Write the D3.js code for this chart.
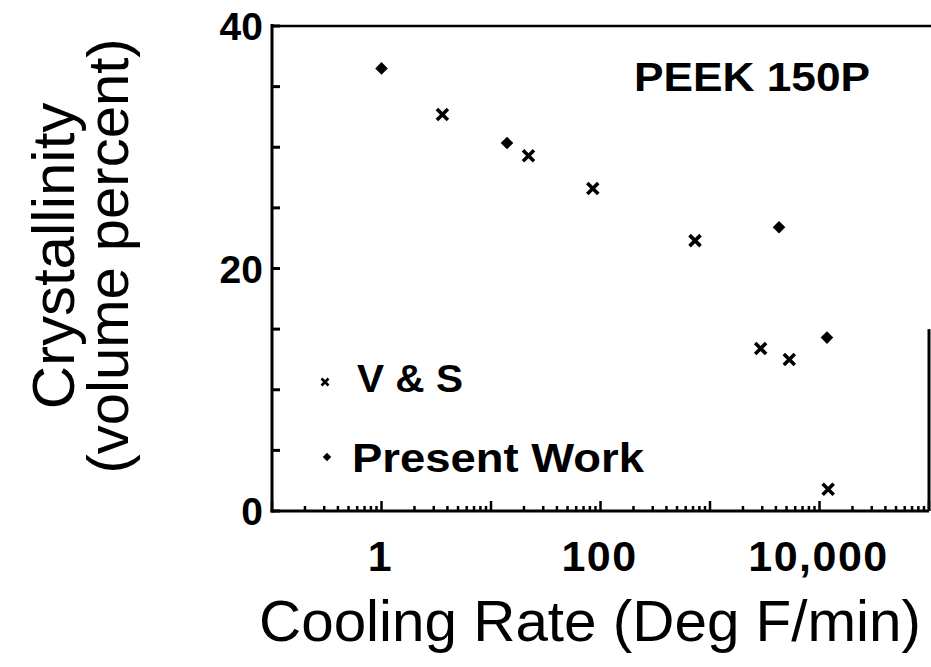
<!DOCTYPE html>
<html>
<head>
<meta charset="utf-8">
<script src="https://cdn.jsdelivr.net/npm/d3@7"></script>
<style>
  html, body { margin: 0; padding: 0; background: #fff; }
  svg { display: block; font-family: "Liberation Sans", Arial, Helvetica, sans-serif; }
</style>
</head>
<body>
<svg id="chart" width="931" height="667"></svg>
<script>
// ---- data ----
const vsRates = [3.6, 22, 85, 730, 2900, 5300, 12000];
const vsCryst = [32.7, 29.3, 26.6, 22.3, 13.4, 12.5, 1.8];
const presentRates = [1, 14, 4270, 11700];
const presentCryst = [36.5, 30.35, 23.4, 14.3];
const xTickValues = [1, 100, 10000];
const xTickLabels = ["1", "100", "10,000"];
const yTickValues = [0, 20, 40];
const yMinorTicks = [5, 10, 15, 25, 30, 35];
const seriesNames = ["V & S", "Present Work"];
const chartTitle = "PEEK 150P";
const xTitle = "Cooling Rate (Deg F/min)";
const yTitle1 = "Crystallinity";
const yTitle2 = "(volume percent)";

const svg = d3.select("#chart");
const x = d3.scaleLog().domain([0.1, 100000]).range([272, 929]);
const y = d3.scaleLinear().domain([0, 40]).range([511, 26]);

// frame lines
const g = svg.append("g");
g.append("line").attr("x1", x(0.1)).attr("x2", x(0.1)).attr("y1", y(40) - 2).attr("y2", y(0) + 1.5)
  .attr("stroke", "#000").attr("stroke-width", 3);
g.append("line").attr("x1", x(0.1) - 1.5).attr("x2", x(100000)).attr("y1", y(0)).attr("y2", y(0))
  .attr("stroke", "#000").attr("stroke-width", 3);
g.append("line").attr("x1", x(0.1)).attr("x2", x(100000) + 2).attr("y1", y(40)).attr("y2", y(40))
  .attr("stroke", "#000").attr("stroke-width", 2.5);
g.append("line").attr("x1", x(100000)).attr("x2", x(100000)).attr("y1", y(15)).attr("y2", y(0))
  .attr("stroke", "#000").attr("stroke-width", 3);

// y ticks (inward)
g.selectAll(".ytick").data(yTickValues.concat(yMinorTicks)).enter().append("line")
  .attr("x1", x(0.1)).attr("x2", x(0.1) + 8)
  .attr("y1", d => y(d)).attr("y2", d => y(d))
  .attr("stroke", "#000").attr("stroke-width", 3);

// x ticks (log minor, pointing up)
const xAll = [];
for (let e = -1; e < 5; e++) {
  for (let m = 1; m <= 10; m++) {
    const v = m * Math.pow(10, e);
    if (m === 1 && e > -1) continue;
    xAll.push(v);
  }
}
g.selectAll(".xtick").data(xAll).enter().append("line")
  .attr("x1", d => x(d)).attr("x2", d => x(d))
  .attr("y1", y(0))
  .attr("y2", d => {
    const r = d / Math.pow(10, Math.floor(Math.log10(d) + 1e-9));
    return y(0) - (Math.abs(r - 1) < 1e-6 ? 10 : 5);
  })
  .attr("stroke", "#000").attr("stroke-width", 2.5);

// tick labels
svg.selectAll(".ylab").data(yTickValues).enter().append("text")
  .attr("x", 263).attr("y", d => y(d) + 14)
  .attr("text-anchor", "end")
  .attr("font-size", 39).attr("font-weight", "bold")
  .text(d => d);

svg.selectAll(".xlab").data(xTickValues).enter().append("text")
  .attr("x", d => x(d) - 1).attr("y", 571)
  .attr("text-anchor", "middle")
  .attr("font-size", 43).attr("font-weight", "bold")
  .attr("letter-spacing", 1.5)
  .text((d, i) => xTickLabels[i]);

// axis titles
svg.append("text").attr("x", 259).attr("y", 641)
  .attr("font-size", 58).attr("textLength", 662).attr("lengthAdjust", "spacingAndGlyphs")
  .text(xTitle);

svg.append("text").attr("transform", "translate(74,256) rotate(-90)")
  .attr("text-anchor", "middle").attr("font-size", 60)
  .text(yTitle1);
svg.append("text").attr("transform", "translate(128,256) rotate(-90)")
  .attr("text-anchor", "middle").attr("font-size", 58)
  .text(yTitle2);

// chart title
svg.append("text").attr("x", 634).attr("y", 91)
  .attr("font-size", 41).attr("font-weight", "bold")
  .attr("textLength", 236).attr("lengthAdjust", "spacingAndGlyphs")
  .text(chartTitle);

// markers
const diamond = d3.symbol().type(d3.symbolSquare).size(80);
const crossPath = s => `M${-s},${-s}L${s},${s}M${s},${-s}L${-s},${s}`;

svg.selectAll(".vs").data(vsRates).enter().append("path")
  .attr("transform", (d, i) => `translate(${x(d)},${y(vsCryst[i])})`)
  .attr("d", crossPath(5.5))
  .attr("stroke", "#000").attr("stroke-width", 3.6).attr("fill", "none");

svg.selectAll(".pw").data(presentRates).enter().append("path")
  .attr("transform", (d, i) => `translate(${x(d)},${y(presentCryst[i])}) rotate(45)`)
  .attr("d", diamond())
  .attr("fill", "#000");

// legend
svg.append("path").attr("transform", "translate(325,382)")
  .attr("d", crossPath(3.5)).attr("stroke", "#000").attr("stroke-width", 2.6).attr("fill", "none");
svg.append("text").attr("x", 357).attr("y", 392)
  .attr("font-size", 39).attr("font-weight", "bold")
  .attr("textLength", 106).attr("lengthAdjust", "spacingAndGlyphs")
  .text(seriesNames[0]);
svg.append("path").attr("transform", "translate(327,457) rotate(45)")
  .attr("d", d3.symbol().type(d3.symbolSquare).size(36)()).attr("fill", "#000");
svg.append("text").attr("x", 352).attr("y", 472)
  .attr("font-size", 40).attr("font-weight", "bold")
  .attr("textLength", 292).attr("lengthAdjust", "spacingAndGlyphs")
  .text(seriesNames[1]);
</script>
</body>
</html>
